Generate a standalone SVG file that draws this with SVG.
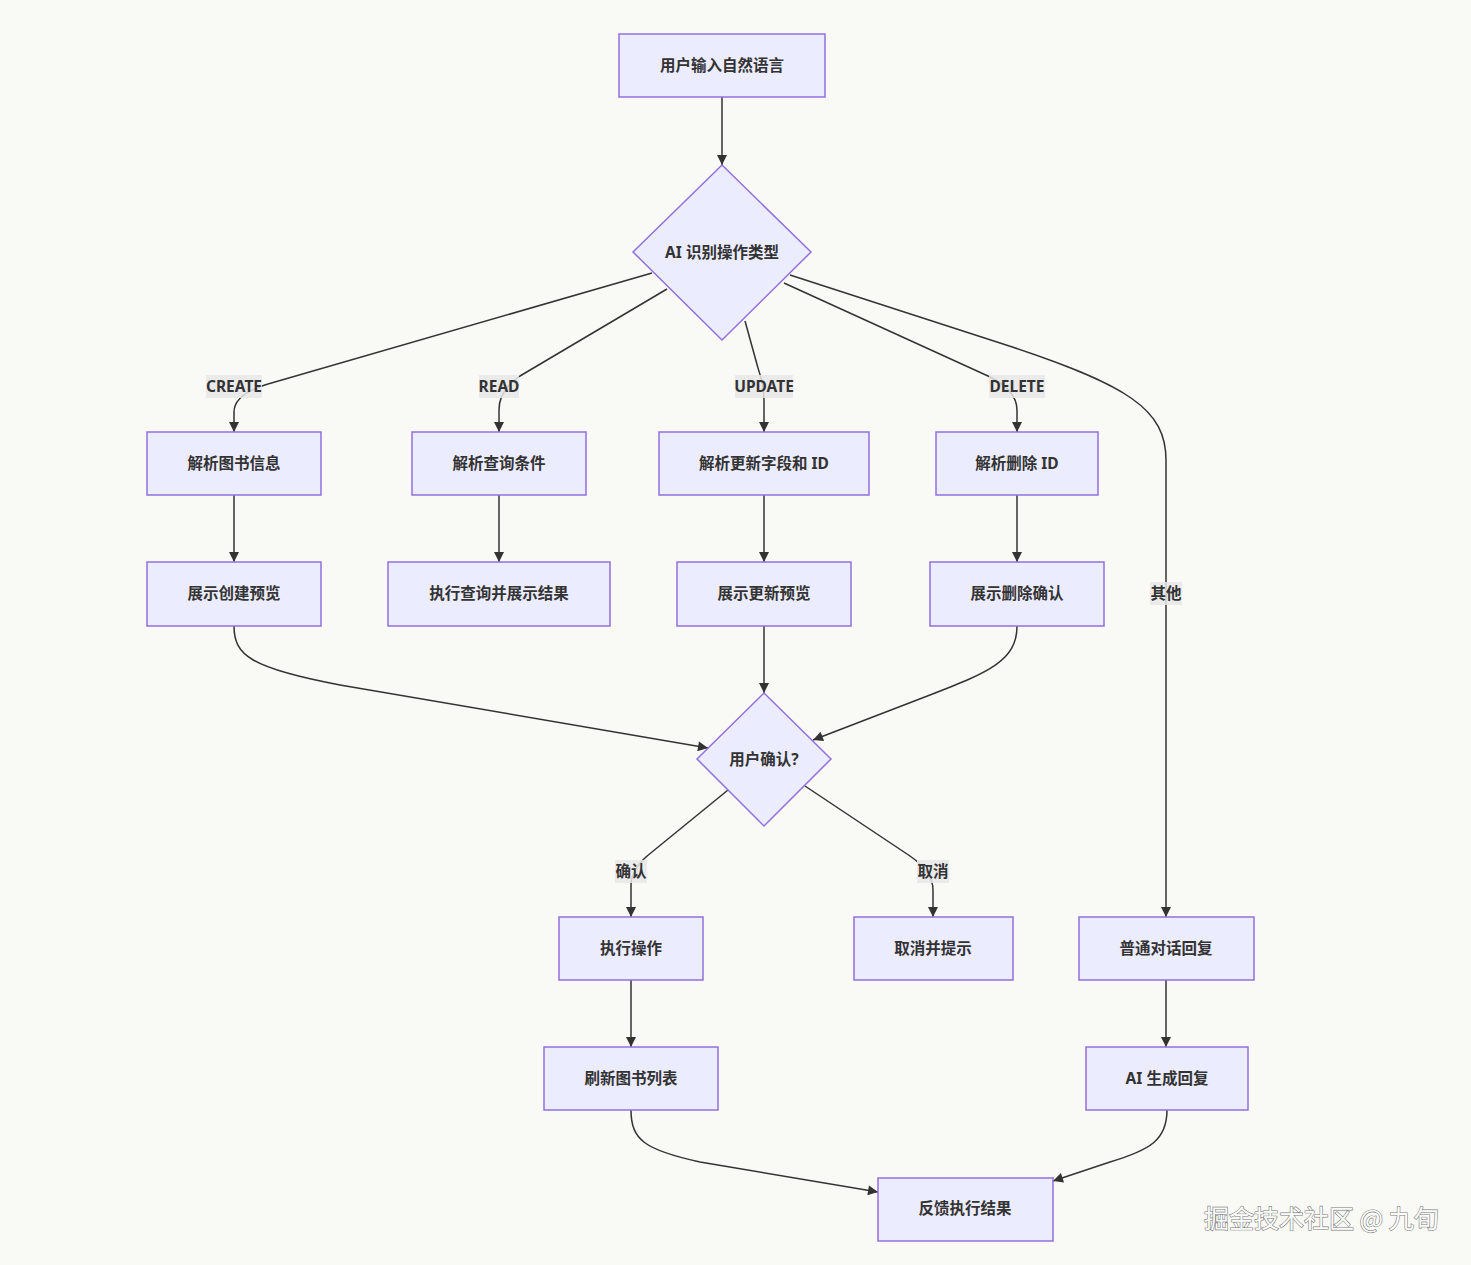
<svg xmlns="http://www.w3.org/2000/svg" width="1471" height="1265" viewBox="0 0 1471 1265">
<defs>
<style>
.node rect, .node polygon { fill: #ECECFF; stroke: #9370DB; stroke-width: 1.5; }
.node text, .lbl text { font-family: "Noto Sans", "Noto Sans CJK SC", sans-serif; font-size: 15.5px; font-weight: bold; fill: #333; text-anchor: middle; dominant-baseline: central; }
.lbl rect { fill: #e8e8e8; opacity: 0.85; }
.edge { fill: none; stroke: #333; stroke-width: 1.5; marker-end: url(#arrow); }
.wm { font-family: "Noto Sans CJK SC", sans-serif; font-size: 25px; fill: #ffffff; stroke: #7a7a7a; stroke-width: 1.2; paint-order: stroke; }
</style>
<marker id="arrow" viewBox="0 0 10 10" refX="10" refY="5" markerUnits="userSpaceOnUse" markerWidth="11" markerHeight="10" orient="auto">
<path d="M0,0 L10,5 L0,10 z" fill="#333"/>
</marker>
</defs>
<rect x="0" y="0" width="1471" height="1265" fill="#f9f9f5"/>

<g id="connectors">
<path class="edge" d="M722,97 L722,165"/>
<path class="edge" d="M652,273 L268,384 Q234,394 234,412 L234,432"/>
<path class="edge" d="M667,289 L520,376 Q499,390 499,410 L499,432"/>
<path class="edge" d="M745,321 L758,368 Q764,385 764,400 L764,432"/>
<path class="edge" d="M784,283 L988,376 Q1017,390 1017,410 L1017,432"/>
<path class="edge" d="M790,275 L1000,343 C1130,385 1166,410 1166,460 L1166,917"/>
<path class="edge" d="M234,495 L234,562"/>
<path class="edge" d="M499,495 L499,562"/>
<path class="edge" d="M764,495 L764,562"/>
<path class="edge" d="M1017,495 L1017,562"/>
<path class="edge" d="M234,626 C234,655 250,668 340,685 L708,748"/>
<path class="edge" d="M764,626 L764,693"/>
<path class="edge" d="M1017,626 C1017,660 990,672 930,695 L813,740"/>
<path class="edge" d="M728,790 L652,852 Q631,868 631,885 L631,917"/>
<path class="edge" d="M805,786 L910,856 Q933,872 933,890 L933,917"/>
<path class="edge" d="M631,980 L631,1047"/>
<path class="edge" d="M1166,980 L1166,1047"/>
<path class="edge" d="M631,1110 C631,1140 645,1150 700,1162 L878,1192"/>
<path class="edge" d="M1167,1110 C1167,1140 1150,1150 1110,1162 L1053,1181"/>
</g>

<g id="edge-labels">
<g class="lbl"><rect x="206" y="375" width="56" height="23"/><text x="234" y="386">CREATE</text></g>
<g class="lbl"><rect x="479" y="375" width="40" height="23"/><text x="499" y="386">READ</text></g>
<g class="lbl"><rect x="735" y="375" width="58" height="23"/><text x="764" y="386">UPDATE</text></g>
<g class="lbl"><rect x="989" y="375" width="56" height="23"/><text x="1017" y="386">DELETE</text></g>
<g class="lbl"><rect x="1150" y="582" width="32" height="23"/><text x="1166" y="593">其他</text></g>
<g class="lbl"><rect x="615" y="860" width="32" height="23"/><text x="631" y="871">确认</text></g>
<g class="lbl"><rect x="917" y="860" width="32" height="23"/><text x="933" y="871">取消</text></g>
</g>

<g id="A" class="node"><rect x="619" y="34" width="206" height="63"/><text x="722" y="65">用户输入自然语言</text></g>
<g id="B" class="node"><polygon points="722,165 811,252 722,340 633,252"/><text x="722" y="252">AI 识别操作类型</text></g>
<g id="C1" class="node"><rect x="147" y="432" width="174" height="63"/><text x="234" y="463">解析图书信息</text></g>
<g id="C2" class="node"><rect x="412" y="432" width="174" height="63"/><text x="499" y="463">解析查询条件</text></g>
<g id="C3" class="node"><rect x="659" y="432" width="210" height="63"/><text x="764" y="463">解析更新字段和 ID</text></g>
<g id="C4" class="node"><rect x="936" y="432" width="162" height="63"/><text x="1017" y="463">解析删除 ID</text></g>
<g id="D1" class="node"><rect x="147" y="562" width="174" height="64"/><text x="234" y="593">展示创建预览</text></g>
<g id="D2" class="node"><rect x="388" y="562" width="222" height="64"/><text x="499" y="593">执行查询并展示结果</text></g>
<g id="D3" class="node"><rect x="677" y="562" width="174" height="64"/><text x="764" y="593">展示更新预览</text></g>
<g id="D4" class="node"><rect x="930" y="562" width="174" height="64"/><text x="1017" y="593">展示删除确认</text></g>
<g id="E" class="node"><polygon points="764,693 831,759 764,826 697,759"/><text x="764" y="759">用户确认?</text></g>
<g id="F1" class="node"><rect x="559" y="917" width="144" height="63"/><text x="631" y="948">执行操作</text></g>
<g id="F2" class="node"><rect x="854" y="917" width="159" height="63"/><text x="933" y="948">取消并提示</text></g>
<g id="F3" class="node"><rect x="1079" y="917" width="175" height="63"/><text x="1166" y="948">普通对话回复</text></g>
<g id="G1" class="node"><rect x="544" y="1047" width="174" height="63"/><text x="631" y="1078">刷新图书列表</text></g>
<g id="G2" class="node"><rect x="1086" y="1047" width="162" height="63"/><text x="1167" y="1078">AI 生成回复</text></g>
<g id="H" class="node"><rect x="878" y="1178" width="175" height="63"/><text x="965" y="1208">反馈执行结果</text></g>

<text class="wm" x="1204" y="1228">掘金技术社区 @ 九旬</text>
</svg>
